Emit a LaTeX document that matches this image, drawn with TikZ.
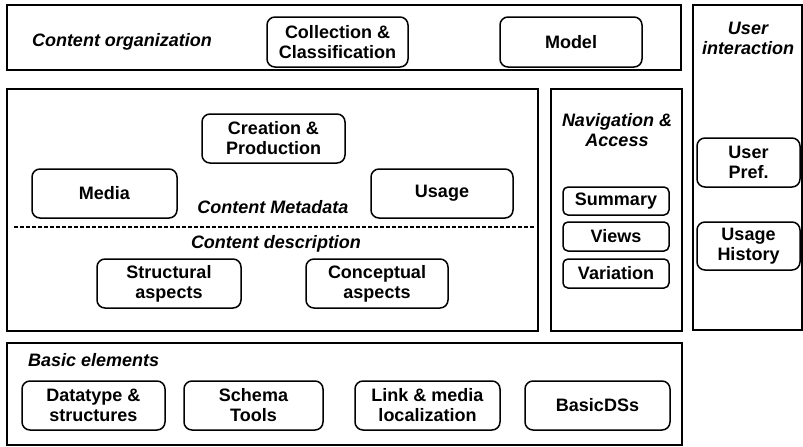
\documentclass[tikz,border=0pt]{standalone}
\usepackage{fontspec}
\setmainfont{Liberation Sans}
\begin{document}
\begin{tikzpicture}[x=1pt,y=-1pt,
  region/.style={draw, line width=1.3pt, rectangle, inner sep=0pt},
  item/.style={draw, line width=1.5pt, rounded corners=8pt, align=center,
    inner sep=0pt, font=\fontsize{18}{20}\selectfont\bfseries},
  heading/.style={align=center, inner sep=0pt,
    font=\fontsize{18}{20}\selectfont\bfseries\itshape}]
\useasboundingbox (0,0) rectangle (803,447);
\fill[white] (0,0) rectangle (803,447);

% outer regions
\node[region, minimum width=674pt, minimum height=65pt] (org) at (344,37.5) {};
\node[region, minimum width=109pt, minimum height=325pt] (user) at (747.5,167.5) {};
\node[region, minimum width=531pt, minimum height=242pt] (content) at (272.5,210) {};
\node[region, minimum width=131pt, minimum height=242pt] (nav) at (616.5,210) {};
\node[region, minimum width=675pt, minimum height=102pt] (basic) at (344.5,394) {};

% content organization
\node[heading] (orglbl) at (122,42) {Content organization};
\node[item, minimum width=141pt, minimum height=50pt] (coll) at (337.5,42) {Collection \&\\Classification};
\node[item, minimum width=142pt, minimum height=50pt] (model) at (571,42) {Model};

% user interaction
\node[heading] (userlbl) at (748,38) {User\\interaction};
\node[item, minimum width=103pt, minimum height=49pt] (upref) at (748.5,162.5) {User\\Pref.};
\node[item, minimum width=103pt, minimum height=48pt] (uhist) at (748.5,246) {Usage\\History};

% content metadata / description
\node[item, minimum width=143pt, minimum height=49pt] (creat) at (273.5,138.5) {Creation \&\\Production};
\node[item, minimum width=145pt, minimum height=49pt] (media) at (104.5,193.5) {Media};
\node[item, minimum width=142pt, minimum height=49pt] (usage) at (442,193.5) {Usage};
\node[heading] (metalbl) at (273,207) {Content Metadata};
\coordinate (dl) at (14,227);
\coordinate (dr) at (535,227);
\draw[line width=1.6pt, dash pattern=on 4pt off 2pt] (dl) -- (dr);
\node[heading] (desclbl) at (276,244) {Content description};
\node[item, minimum width=144pt, minimum height=49pt] (struct) at (169,283.5) {Structural\\aspects};
\node[item, minimum width=142pt, minimum height=49pt] (concept) at (377,283.5) {Conceptual\\aspects};

% navigation and access
\node[heading] (navlbl) at (617,130) {Navigation \&\\Access};
\node[item, rounded corners=5pt, minimum width=106pt, minimum height=28pt] (summ) at (616,201) {Summary};
\node[item, rounded corners=5pt, minimum width=106pt, minimum height=29pt] (views) at (616,236.5) {Views};
\node[item, rounded corners=5pt, minimum width=106pt, minimum height=29pt] (vari) at (616,273.5) {Variation};

% basic elements
\node[heading, anchor=west] (baslbl) at (28,360) {Basic elements};
\node[item, minimum width=143pt, minimum height=49pt] (dtype) at (93.5,405.5) {Datatype \&\\structures};
\node[item, minimum width=139pt, minimum height=49pt] (schema) at (253.5,405.5) {Schema\\Tools};
\node[item, minimum width=145pt, minimum height=49pt] (link) at (427.5,405.5) {Link \& media\\localization};
\node[item, minimum width=145pt, minimum height=49pt] (bds) at (597.5,405.5) {BasicDSs};
\end{tikzpicture}
\end{document}
